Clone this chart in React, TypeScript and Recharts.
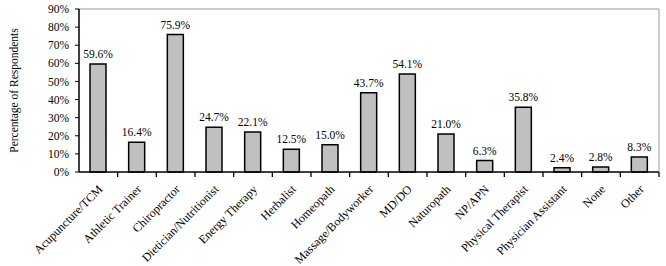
import { Bar, BarChart, LabelList, ReferenceLine, XAxis, YAxis } from "recharts";

const categories = [
  "Acupuncture/TCM",
  "Athletic Trainer",
  "Chiropractor",
  "Dietician/Nutritionist",
  "Energy Therapy",
  "Herbalist",
  "Homeopath",
  "Massage/Bodyworker",
  "MD/DO",
  "Naturopath",
  "NP/APN",
  "Physical Therapist",
  "Physician Assistant",
  "None",
  "Other",
];
const percentages = [59.6, 16.4, 75.9, 24.7, 22.1, 12.5, 15.0, 43.7, 54.1, 21.0, 6.3, 35.8, 2.4, 2.8, 8.3];
const yTicks = [0, 10, 20, 30, 40, 50, 60, 70, 80, 90];

const data = categories.map((name, i) => ({ name, value: percentages[i] }));

const W = 666;
const H = 266;
const TOP = 9;
const LEFT = 79;
const RIGHT = 7;
const X_AXIS_H = 94;
const AXIS_Y = H - X_AXIS_H;
const band = (W - LEFT - RIGHT) / categories.length;
const font = "'Liberation Serif', 'Times New Roman', serif";

// labels sit between tick marks, ticks are on category boundaries
function CategoryTick(props: any) {
  const { payload } = props;
  const cx = payload.coordinate;
  const tx = cx + 5;
  const ty = AXIS_Y + 18;
  return (
    <g>
      <line x1={cx + band / 2} x2={cx + band / 2} y1={AXIS_Y} y2={AXIS_Y + 5} stroke="#000" strokeWidth={1.3} />
      <text
        x={tx}
        y={ty}
        textAnchor="end"
        fontSize={12}
        fontFamily={font}
        fill="#000"
        transform={`rotate(-45 ${tx} ${ty})`}
      >
        {payload.value}
      </text>
    </g>
  );
}

export default function App() {
  return (
    <div style={{ position: "absolute", left: 0, top: 0, background: "#fff" }}>
      <BarChart width={W} height={H} data={data} margin={{ top: TOP, right: 0, bottom: 0, left: 0 }} barCategoryGap={0}>
        <XAxis
          dataKey="name"
          interval={0}
          height={X_AXIS_H}
          tickLine={false}
          axisLine={{ stroke: "#000", strokeWidth: 1.5 }}
          tick={<CategoryTick />}
        />
        <YAxis
          yAxisId="left"
          domain={[0, 90]}
          ticks={yTicks}
          width={LEFT}
          tickFormatter={(v) => `${v}%`}
          tick={{ fontSize: 11.5, fontFamily: font, fill: "#000" }}
          tickLine={{ stroke: "#000" }}
          tickSize={4}
          tickMargin={6}
          axisLine={{ stroke: "#000", strokeWidth: 1.5 }}
          label={{
            value: "Percentage of Respondents",
            angle: -90,
            position: "insideLeft",
            offset: 14,
            style: { fontSize: 11.5, fontFamily: font, fill: "#000", textAnchor: "middle" },
          }}
        />
        <YAxis
          yAxisId="right"
          orientation="right"
          domain={[0, 90]}
          width={RIGHT}
          tick={false}
          tickLine={false}
          axisLine={{ stroke: "#999", strokeWidth: 1 }}
        />
        <ReferenceLine yAxisId="left" y={90} stroke="#999" strokeWidth={1} />
        <Bar
          yAxisId="left"
          dataKey="value"
          fill="#c0c0c0"
          stroke="#000"
          strokeWidth={1.5}
          barSize={16}
          isAnimationActive={false}
        >
          <LabelList
            dataKey="value"
            position="top"
            offset={6}
            formatter={(v: any) => `${Number(v).toFixed(1)}%`}
            style={{ fontSize: 11.5, fontFamily: font, fill: "#000" }}
          />
        </Bar>
      </BarChart>
    </div>
  );
}
